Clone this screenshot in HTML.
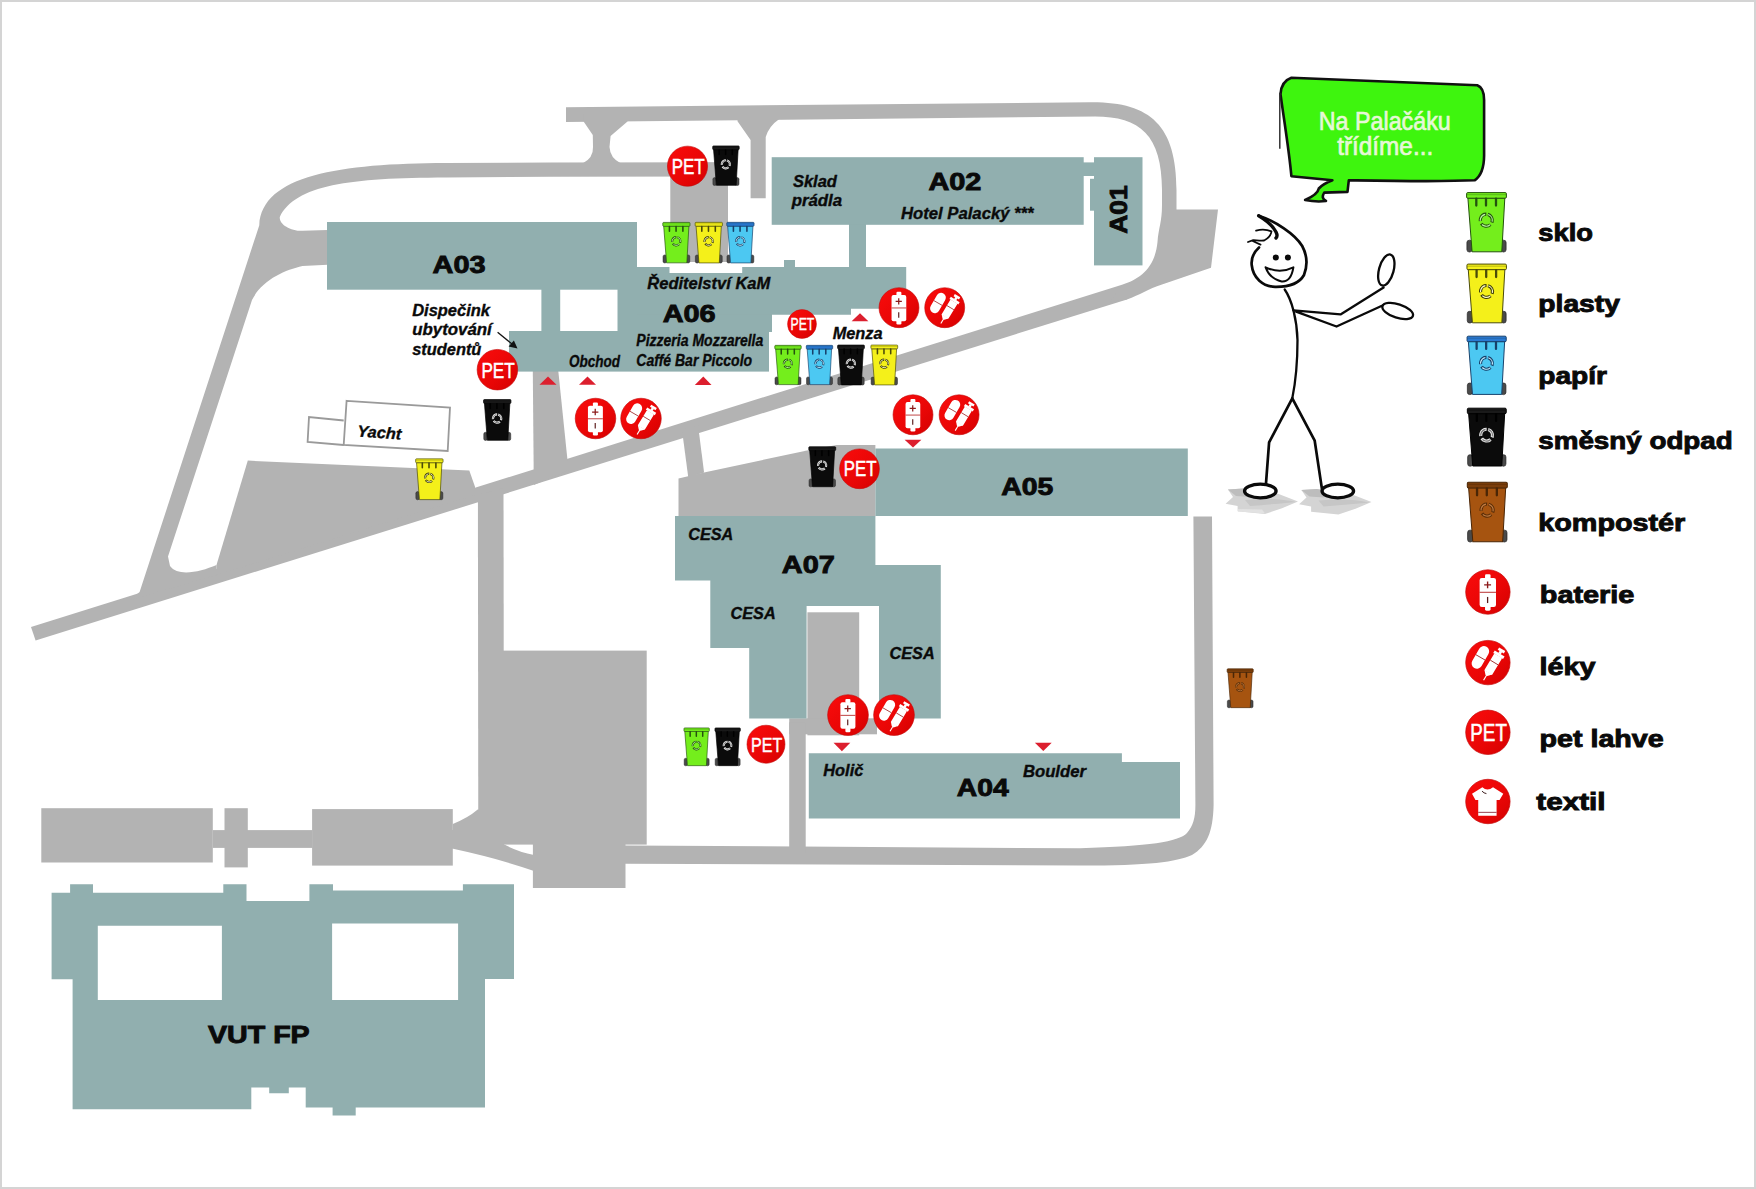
<!DOCTYPE html>
<html><head><meta charset="utf-8">
<style>
html,body{margin:0;padding:0;background:#fff;}
body{width:1756px;height:1189px;overflow:hidden;position:relative;font-family:"Liberation Sans",sans-serif;}
svg{position:absolute;left:0;top:0;display:block;}
.lb{font-family:"Liberation Sans",sans-serif;font-weight:bold;fill:#0a0a0a;stroke:#0a0a0a;stroke-width:0.9;}
.it{font-family:"Liberation Sans",sans-serif;font-weight:bold;font-style:italic;fill:#0a0a0a;stroke:#0a0a0a;stroke-width:0.35;}
</style></head>
<body>
<svg width="1756" height="1189" viewBox="0 0 1756 1189">
<defs>
  <linearGradient id="rg" x1="0" y1="0" x2="1" y2="1">
    <stop offset="0" stop-color="#fa0c0c"/>
    <stop offset="0.6" stop-color="#e80606"/>
    <stop offset="1" stop-color="#d40000"/>
  </linearGradient>
  <symbol id="bin" viewBox="0 0 41 61" overflow="visible">
    <rect x="0.9" y="48.4" width="5.2" height="11.8" rx="2.4" fill="#4a4a4a" stroke="#222" stroke-width="0.7"/>
    <rect x="34.9" y="48.4" width="5.2" height="11.8" rx="2.4" fill="#4a4a4a" stroke="#222" stroke-width="0.7"/>
    <path d="M1.9,6.3 L38.8,6.3 L35.8,60 L6.1,60 Z" fill="var(--body)" stroke="var(--ol)" stroke-width="1"/>
    <rect x="0.6" y="0.8" width="39.8" height="5.6" rx="1.2" fill="var(--lid)" stroke="var(--ol)" stroke-width="1"/>
    <path d="M1,2.9 H40" stroke="var(--ol)" stroke-width="0.5" stroke-opacity="0.7"/>
    <path d="M10.3,6.8 V13.8 M20,6.8 V13.8 M30,6.8 V13.8" stroke="var(--ol)" stroke-width="2.3" stroke-linecap="round"/>
    <circle cx="20.3" cy="28.4" r="6" fill="none" stroke="var(--sym)" stroke-width="3.2" stroke-dasharray="10 2.57" transform="rotate(-75 20.3 28.4)"/>
    <circle cx="20.3" cy="28.4" r="6" fill="none" stroke="var(--symi)" stroke-width="1.2" stroke-dasharray="8.6 3.97" transform="rotate(-72 20.3 28.4)"/>
  </symbol>
  <symbol id="ibat" viewBox="-23 -23 46 46" overflow="visible">
    <circle r="22.5" fill="url(#rg)" stroke="#c40a0a" stroke-width="0.7"/>
    <rect x="-8.4" y="-14.3" width="16.6" height="29.5" rx="2.2" fill="#fff"/>
    <rect x="-2.9" y="-17.9" width="5.6" height="4.4" rx="1.2" fill="#fff"/>
    <rect x="-2.9" y="14" width="5.6" height="4.9" rx="1.4" fill="#fff"/>
    <path d="M-8.4,0.3 H8.2" stroke="#b01818" stroke-width="0.9"/>
    <path d="M-3.8,-7.2 H3.2 M-0.3,-10.7 V-3.7" stroke="#8c1a1a" stroke-width="1.4"/>
    <path d="M-0.3,5 V11.2" stroke="#5a1a1a" stroke-width="1.3"/>
  </symbol>
  <symbol id="imed" viewBox="-23 -23 46 46" overflow="visible">
    <circle r="22.5" fill="url(#rg)" stroke="#c40a0a" stroke-width="0.7"/>
    <g transform="translate(-7.6,-5.35) rotate(30)">
      <rect x="-5.4" y="-12.4" width="10.8" height="24.8" rx="5.4" fill="#fff"/>
      <path d="M-5.4,0 H5.4" stroke="#9a1a1a" stroke-width="0.8"/>
    </g>
    <g transform="translate(5.1,2.05) rotate(31)">
      <rect x="-4.6" y="-10.5" width="9.2" height="20" rx="1" fill="#fff"/>
      <path d="M-4.6,9 L4.6,9 L1.1,12.8 L-1.1,12.8 Z" fill="#fff"/>
      <rect x="-0.6" y="12" width="1.2" height="6.4" fill="#fff"/>
      <rect x="-5.8" y="-13.2" width="11.6" height="3" fill="#fff"/>
      <rect x="-1.4" y="-15.8" width="2.8" height="3" fill="#fff"/>
      <rect x="-3.6" y="-18.2" width="7.2" height="2.8" fill="#fff"/>
      <path d="M-4.6,-2.5 H4.6" stroke="#9a1a1a" stroke-width="0.8"/>
    </g>
  </symbol>
  <symbol id="ipet" viewBox="-23 -23 46 46" overflow="visible">
    <circle r="22.5" fill="url(#rg)" stroke="#c40a0a" stroke-width="0.7"/>
    <text x="0.7" y="8.7" text-anchor="middle" font-family="Liberation Sans" font-size="25" fill="#fff" stroke="#fff" stroke-width="0.6" textLength="37" lengthAdjust="spacingAndGlyphs">PET</text>
  </symbol>
  <symbol id="itex" viewBox="-23 -23 46 46" overflow="visible">
    <circle r="22.5" fill="url(#rg)" stroke="#c40a0a" stroke-width="0.7"/>
    <path d="M-16.1,-7.9 L-5.6,-14.4 Q-0.6,-9.8 5.2,-14.4 L15.6,-7.9 L11.8,-1.5 L8.8,-1.5 L8.8,14.5 L-9.8,14.5 L-9.8,-1.5 L-12.6,-1.5 Z" fill="#fff"/>
    <path d="M-9.8,11 H8.8" stroke="#8a2a3a" stroke-width="0.9"/>
    <path d="M-6,-10.5 Q-4,-8.3 -1.5,-8" stroke="#3a1a1a" stroke-width="1" fill="none"/>
  </symbol>
</defs>
<rect x="0" y="0" width="1756" height="1189" fill="#fff"/>

<!-- ROADS -->
<g id="roads" fill="#b3b3b3">
  <!-- main diagonal -->
  <path d="M31,627 L1122,284.8 L1127,299.4 L35.6,640.5 Z"/>
  <!-- left loop: top road + curve + left road + A03 branch -->
  <path d="M728,162.3 L550,162.4 L446,163 C340,163.5 262,175 259.3,225.2 L139.6,592 L130,600 L216.5,575 L216.5,565 C200,572 178,577 170,566 L168,556.5 L252,300 C262,280 285,270 302.5,266.1 L327.7,264.8 L327.7,230.1 L302.5,230.8 C290,231 279,224 279.8,216.9 C295,185 350,177.6 446,177.4 L550,176.7 L728,176.6 Z"/>
  <!-- parking west -->
  <path d="M216.5,565 L247.8,460.6 L469.3,470.5 L475,486.8 L475,495 L216.5,575 Z"/>
  <!-- top road + right side + flare -->
  <path d="M566,107.2 L1090,102.2 C1150,101.5 1176.5,125 1176.5,190 L1176.5,209.5 L1218,209.6 L1211,267.8 L1162,284.5 C1148,289 1140,295 1127,299.4 L1110,302 L1122,284.8 C1140,279 1155,268 1157.5,242 C1158.5,228 1162,222 1162,205 L1162,190 C1162,135 1140,116.5 1095,116.4 L566,122 Z"/>
  <!-- X connector -->
  <path d="M583.6,121.6 L592.8,135 L593,147 Q593.5,158 582.5,163.5 L582.5,166 L621,166 L621,163.5 Q610,158 609.5,147 L610.6,136 L627.5,121.4 L627.5,114 L583.6,114 Z"/>
  <!-- right connector -->
  <path d="M737.5,121.2 L750.6,140 L750.6,198.2 L765.7,198.2 L765.7,137 Q769,126 779,119.2 L779,112 L737.5,112 Z"/>
  <!-- pad -->
  <rect x="670.3" y="162.6" width="57.7" height="99.4"/>
  <!-- road under A06 -->
  <path d="M532.8,371 L558.3,371 L568.5,470 L533.8,485 Z"/>
  <!-- vertical branch to A07 parking -->
  <path d="M682,430 L698,425 L704.1,472.4 L688.3,477.7 Z"/>
  <!-- A07 parking -->
  <path d="M678.5,478.6 L704,472.4 L808.3,450.3 L836.6,445 L875.4,445 L875.4,516.2 L678.5,516.2 Z"/>
  <!-- left vertical road -->
  <path d="M477.9,495 L503.5,488 L504,846 L478.3,846 Z"/>
  <!-- big parking -->
  <rect x="502" y="650.6" width="144.7" height="194"/>
  <rect x="532.9" y="842" width="92.6" height="46"/>
  <!-- bottom road + right road -->
  <path d="M625,845.4 L1080,848.3 C1150,846 1178,842 1187,833 C1193,826 1195.4,818 1195.4,805 L1193.4,516.4 L1212,516.4 L1213.6,805 C1213,832 1207,846 1192,855 C1176,862 1150,865.5 1080,865.6 L625,863.8 Z"/>
  <!-- A07 inner grey + small road -->
  <rect x="807.4" y="612.3" width="51.8" height="123"/>
  <rect x="789.2" y="718.3" width="87.8" height="16"/>
  <rect x="789.2" y="722.3" width="16.5" height="130"/>
  <!-- bottom-left rects -->
  <rect x="41.3" y="808.2" width="171.5" height="54.3"/>
  <rect x="224.5" y="808.2" width="23.3" height="59.2"/>
  <rect x="312.1" y="809.1" width="140.7" height="56.5"/>
  <rect x="212.8" y="830.1" width="99.5" height="17.8"/>
  <path d="M452.8,824 Q468,818 477.7,809.6 L480,809.6 L480,848 L452.8,848 Z"/>
  <path d="M452,830 L480,830 L480,843.8 L502.8,843.8 Q518,852 534,855 L534,871 Q500,859 452,848.6 Z"/>
</g>

<!-- BUILDINGS -->
<g id="bld" fill="#91afaf">
  <rect x="327" y="222" width="310" height="67.7"/>
  <rect x="541.4" y="289" width="18.8" height="43"/>
  <rect x="617.5" y="289" width="154.5" height="43"/>
  <path d="M637,267 L669.5,267 L669.5,273 L742.2,273 L742.2,267 L906.2,267 L906.2,308.8 L851,308.8 L851,314.8 L637,314.8 Z"/>
  <rect x="784" y="260" width="11" height="8"/>
  <rect x="509" y="331" width="260" height="40.6"/>
  <rect x="849" y="223" width="17" height="45"/>
  <rect x="771.7" y="157.2" width="312" height="67.6"/>
  <rect x="1094" y="157.2" width="48.5" height="108.2"/>
  <rect x="1083" y="162.4" width="11.5" height="13.6"/>
  <rect x="1090" y="178.8" width="4.5" height="31.9"/>
  <rect x="875.4" y="448.5" width="312.4" height="67.5"/>
  <path d="M675,516 L875.4,516 L875.4,565 L940.8,565 L940.8,718.6 L879,718.6 L879,606.1 L806.6,606.1 L806.6,718.6 L749.2,718.6 L749.2,648 L710.3,648 L710.3,580.4 L675,580.4 Z"/>
  <path d="M808.8,753.2 L1121.9,753.2 L1121.9,762.1 L1180,762.1 L1180,818.4 L808.8,818.4 Z"/>
  <path fill-rule="evenodd" d="M51.6,892.7 L70.1,892.7 L70.1,884.3 L93,884.3 L93,892.7 L223.3,892.7 L223.3,884.3 L246.5,884.3 L246.5,901.1 L309.4,901.1 L309.4,884.3 L333,884.3 L333,890.6 L462.9,890.6 L462.9,884.3 L514,884.3 L514,978.9 L485,978.9 L485,1107.6 L355.7,1107.6 L355.7,1115.6 L332.6,1115.6 L332.6,1107.6 L305.7,1107.6 L305.7,1087.6 L288.8,1087.6 L288.8,1093.3 L269.2,1093.3 L269.2,1087.6 L251.3,1087.6 L251.3,1109.3 L72.6,1109.3 L72.6,979.3 L51.6,979.3 Z M97.8,925.7 L221.9,925.7 L221.9,999.9 L97.8,999.9 Z M332.1,923.6 L458.1,923.6 L458.1,999.9 L332.1,999.9 Z"/>
</g>


<!-- TRIANGLES -->
<g fill="#dc1f2e">
  <path d="M539.5,384.8 L548,376.6 L556.5,384.8 Z"/>
  <path d="M579,384.8 L587.5,376.6 L596,384.8 Z"/>
  <path d="M694.8,384.9 L703.3,376.4 L711.5,384.9 Z"/>
  <path d="M851.6,321.2 L860,313.3 L868.4,321.2 Z"/>
  <path d="M904.6,439.8 L921.4,439.8 L913,447.6 Z"/>
  <path d="M833.5,742.8 L850.3,742.8 L841.9,751.3 Z"/>
  <path d="M1034.9,742.7 L1051.7,742.7 L1043.3,751.1 Z"/>
</g>

<!-- MAP BINS -->
<g>
  <use href="#bin" x="483" y="399" width="28.5" height="42" style="--body:#0b0b0b;--lid:#1a1a1a;--ol:#000;--sym:#e8e8e8;--symi:#777"/>
  <use href="#bin" x="415" y="458.3" width="28.7" height="42" style="--body:#f4f01a;--lid:#f4f01a;--ol:#4a4a08;--sym:#3a3a08;--symi:#fafac0"/>
  <use href="#bin" x="712.3" y="145.2" width="27.3" height="41" style="--body:#0b0b0b;--lid:#1a1a1a;--ol:#000;--sym:#e8e8e8;--symi:#777"/>
  <use href="#bin" x="662.4" y="221.8" width="28" height="41.8" style="--body:#74ee1c;--lid:#74ee1c;--ol:#24520e;--sym:#24520e;--symi:#b8f7a0"/>
  <use href="#bin" x="694.7" y="221.8" width="28.2" height="41.8" style="--body:#f4f01a;--lid:#f4f01a;--ol:#4a4a08;--sym:#3a3a08;--symi:#fafac0"/>
  <use href="#bin" x="726.3" y="221.8" width="28.2" height="41.8" style="--body:#4cc8f2;--lid:#2a7ad2;--ol:#17406a;--sym:#17406a;--symi:#c0ecfc"/>
  <use href="#bin" x="774.4" y="344.4" width="27.2" height="41.3" style="--body:#74ee1c;--lid:#74ee1c;--ol:#24520e;--sym:#24520e;--symi:#b8f7a0"/>
  <use href="#bin" x="805.9" y="344.4" width="27.2" height="41.3" style="--body:#4cc8f2;--lid:#2a7ad2;--ol:#17406a;--sym:#17406a;--symi:#c0ecfc"/>
  <use href="#bin" x="837.2" y="344.4" width="27.6" height="41.3" style="--body:#0b0b0b;--lid:#1a1a1a;--ol:#000;--sym:#e8e8e8;--symi:#777"/>
  <use href="#bin" x="870.5" y="344.4" width="27.6" height="41.3" style="--body:#f4f01a;--lid:#f4f01a;--ol:#4a4a08;--sym:#3a3a08;--symi:#fafac0"/>
  <use href="#bin" x="808.3" y="446.2" width="27.9" height="41.2" style="--body:#0b0b0b;--lid:#1a1a1a;--ol:#000;--sym:#e8e8e8;--symi:#777"/>
  <use href="#bin" x="683.5" y="727.4" width="26.3" height="38.9" style="--body:#74ee1c;--lid:#74ee1c;--ol:#24520e;--sym:#24520e;--symi:#b8f7a0"/>
  <use href="#bin" x="714.4" y="727.4" width="26.5" height="38.9" style="--body:#0b0b0b;--lid:#1a1a1a;--ol:#000;--sym:#e8e8e8;--symi:#777"/>
  <use href="#bin" x="1226.4" y="668.3" width="27.6" height="40" style="--body:#a65410;--lid:#7a3d0a;--ol:#4a2606;--sym:#5a2e08;--symi:#c07a40"/>
</g>

<!-- MAP ICONS -->
<g>
  <use href="#ipet" x="667" y="145.7" width="41" height="41"/>
  <use href="#ipet" x="476.7" y="349" width="41.4" height="41.4"/>
  <use href="#ipet" x="787.2" y="309.2" width="29.6" height="29.6"/>
  <use href="#ipet" x="839.2" y="448.5" width="40.6" height="40.6"/>
  <use href="#ipet" x="746.6" y="724.8" width="38.8" height="38.8"/>
  <use href="#ibat" x="878.6" y="287.3" width="40.8" height="40.8"/>
  <use href="#imed" x="924.3" y="287.3" width="40.8" height="40.8"/>
  <use href="#ibat" x="574.8" y="397.8" width="41.4" height="41.4"/>
  <use href="#imed" x="620.3" y="397.8" width="41.4" height="41.4"/>
  <use href="#ibat" x="892.6" y="394.4" width="40.8" height="40.8"/>
  <use href="#imed" x="938.7" y="394.4" width="40.8" height="40.8"/>
  <use href="#ibat" x="827.2" y="694.3" width="41.6" height="41.6"/>
  <use href="#imed" x="873.2" y="694.3" width="41.6" height="41.6"/>
</g>

<!-- LEGEND -->
<g>
  <use href="#bin" x="1466" y="191.8" width="41" height="61" style="--body:#74ee1c;--lid:#74ee1c;--ol:#24520e;--sym:#24520e;--symi:#b8f7a0"/>
  <use href="#bin" x="1466.2" y="263.3" width="41" height="60.5" style="--body:#f4f01a;--lid:#f4f01a;--ol:#4a4a08;--sym:#3a3a08;--symi:#fafac0"/>
  <use href="#bin" x="1466.4" y="335.4" width="40.5" height="60" style="--body:#4cc8f2;--lid:#2a7ad2;--ol:#17406a;--sym:#17406a;--symi:#c0ecfc"/>
  <use href="#bin" x="1466.4" y="407.4" width="40.8" height="59.6" style="--body:#0b0b0b;--lid:#1a1a1a;--ol:#000;--sym:#e8e8e8;--symi:#777"/>
  <use href="#bin" x="1466.6" y="481.5" width="41.4" height="61.3" style="--body:#a65410;--lid:#7a3d0a;--ol:#4a2606;--sym:#5a2e08;--symi:#c07a40"/>
  <use href="#ibat" x="1465.2" y="569.3" width="45.4" height="45.4"/>
  <use href="#imed" x="1465.2" y="639.9" width="45.4" height="45.4"/>
  <use href="#ipet" x="1465.2" y="709.6" width="45.4" height="45.4"/>
  <use href="#itex" x="1465.2" y="778.8" width="45.4" height="45.4"/>
</g>


<!-- LABELS -->
<g class="lb" font-size="24">
  <text x="432.6" y="273" textLength="53" lengthAdjust="spacingAndGlyphs">A03</text>
  <text x="662.7" y="322" textLength="53" lengthAdjust="spacingAndGlyphs">A06</text>
  <text x="928.4" y="190.2" textLength="53" lengthAdjust="spacingAndGlyphs">A02</text>
  <text x="1001.3" y="494.7" textLength="52" lengthAdjust="spacingAndGlyphs">A05</text>
  <text x="781.8" y="572.7" textLength="53" lengthAdjust="spacingAndGlyphs">A07</text>
  <text x="956.8" y="796.4" textLength="51.9" lengthAdjust="spacingAndGlyphs">A04</text>
  <text x="208" y="1043" textLength="101.7" lengthAdjust="spacingAndGlyphs">VUT FP</text>
  <text transform="translate(1127.2,233.8) rotate(-90)" x="0" y="0" textLength="48.5" lengthAdjust="spacingAndGlyphs">A01</text>
</g>
<g class="it" font-size="16">
  <text x="792.9" y="186.7" textLength="44" lengthAdjust="spacingAndGlyphs">Sklad</text>
  <text x="791.7" y="206.4" textLength="50.4" lengthAdjust="spacingAndGlyphs">prádla</text>
  <text x="901" y="218.7" textLength="132.6" lengthAdjust="spacingAndGlyphs">Hotel Palacký ***</text>
  <text x="647.3" y="288.5" textLength="123" lengthAdjust="spacingAndGlyphs">Ředitelství KaM</text>
  <text x="636.3" y="346" textLength="127" lengthAdjust="spacingAndGlyphs">Pizzeria Mozzarella</text>
  <text x="636.3" y="365.8" textLength="115.8" lengthAdjust="spacingAndGlyphs">Caffé Bar Piccolo</text>
  <text x="569" y="366.8" textLength="51" lengthAdjust="spacingAndGlyphs">Obchod</text>
  <text x="412.2" y="315.5" textLength="77.8" lengthAdjust="spacingAndGlyphs">Dispečink</text>
  <text x="412.2" y="335.2" textLength="79.6" lengthAdjust="spacingAndGlyphs">ubytování</text>
  <text x="412.2" y="355.1" textLength="69.2" lengthAdjust="spacingAndGlyphs">studentů</text>
  <text x="832.7" y="339.4" textLength="49.8" lengthAdjust="spacingAndGlyphs">Menza</text>
  <text x="688.3" y="539.5" textLength="45" lengthAdjust="spacingAndGlyphs">CESA</text>
  <text x="730.6" y="618.6" textLength="45" lengthAdjust="spacingAndGlyphs">CESA</text>
  <text x="889.6" y="658.6" textLength="45" lengthAdjust="spacingAndGlyphs">CESA</text>
  <text x="823.3" y="776" textLength="40" lengthAdjust="spacingAndGlyphs">Holič</text>
  <text x="1022.9" y="776.5" textLength="63.1" lengthAdjust="spacingAndGlyphs">Boulder</text>
  <text transform="rotate(4 379 432)" x="357.4" y="438" textLength="44" lengthAdjust="spacingAndGlyphs">Yacht</text>
</g>
<!-- arrow -->
<path d="M497.6,332.2 L513.5,345.3" stroke="#111" stroke-width="1.3"/>
<path d="M517.5,348.6 L508.6,346.4 L513.9,340.4 Z" fill="#111"/>
<!-- yacht outline -->
<g fill="none" stroke="#9a9a9a" stroke-width="1.8">
  <path d="M346.6,400.8 L450,407.6 L447.7,451 L343.7,445 Z"/>
  <path d="M343.7,420.5 L309,417 L307.6,442 L343.7,445"/>
</g>

<g class="lb" font-size="23.5" stroke-width="1.4" transform="translate(0,0.5)">
  <text x="1538.3" y="240.2" textLength="54.7" lengthAdjust="spacingAndGlyphs">sklo</text>
  <text x="1538.3" y="311.2" textLength="81.6" lengthAdjust="spacingAndGlyphs">plasty</text>
  <text x="1538.3" y="383.2" textLength="68.7" lengthAdjust="spacingAndGlyphs">papír</text>
  <text x="1538.3" y="448" textLength="194.4" lengthAdjust="spacingAndGlyphs">směsný odpad</text>
  <text x="1538.3" y="530.2" textLength="147" lengthAdjust="spacingAndGlyphs">kompostér</text>
  <text x="1539.8" y="602.9" textLength="94.6" lengthAdjust="spacingAndGlyphs">baterie</text>
  <text x="1539.5" y="674.9" textLength="56" lengthAdjust="spacingAndGlyphs">léky</text>
  <text x="1539.5" y="746.3" textLength="124.2" lengthAdjust="spacingAndGlyphs">pet lahve</text>
  <text x="1536.3" y="809.9" textLength="69.3" lengthAdjust="spacingAndGlyphs">textil</text>
</g>

<!-- SPEECH BUBBLE -->
<g>
  <path d="M1291.4,77.8 C1360,80 1420,83 1477.3,85.3 C1482,87 1484.1,92 1484.1,100 L1484.1,155.7 C1484,168 1481,176 1474.6,180.3 C1440,182 1390,181 1348.8,180.3 L1347.5,191.9 L1324.2,192.6 C1322,196 1322,199 1326,201 C1318,202 1310,201 1305.1,200 C1312,197 1318,193 1318.8,188.5 C1322,185 1328,182 1332.4,180.3 L1291.4,176.2 C1289,150 1284,120 1280.5,94.2 C1281,86 1285,80 1291.4,77.8 Z" fill="#3ef50e" stroke="#111" stroke-width="2.6" stroke-linejoin="round"/>
  <path d="M1279.8,92.8 L1279.8,148.8" stroke="#333" stroke-width="1.5"/>
  <text x="1318.8" y="129.7" font-family="Liberation Sans" font-size="26.5" fill="#e6f8d6" stroke="#e6f8d6" stroke-width="0.7" textLength="132" lengthAdjust="spacingAndGlyphs">Na Palačáku</text>
  <text x="1337.2" y="154.5" font-family="Liberation Sans" font-size="25" fill="#e6f8d6" stroke="#e6f8d6" stroke-width="0.7" textLength="96" lengthAdjust="spacingAndGlyphs">třídíme...</text>
</g>

<!-- STICK FIGURE -->
<g fill="none" stroke="#0a0a0a" stroke-width="2.3" stroke-linecap="round" stroke-linejoin="round">
  <g stroke="none">
    <path id="shL" d="M1227.9,489.5 L1243.3,488.4 L1277.4,493.5 L1298,501.5 L1282,508.3 L1264.9,514 L1237.6,511.2 L1237.6,506 L1225.6,503.8 L1233,497 Z" fill="#d4d4d4"/>
    <path d="M1227.9,489.5 L1243.3,488.4 L1262,492 L1250,497 L1236,496 Z" fill="#bdbdbd"/>
    <path d="M1245,500 Q1275,497 1296,502 Q1275,504 1250,506 Z" fill="#c6c6c6"/>
    <path d="M1238,509 L1262,509.5 L1265,513.5 L1238,511.5 Z" fill="#e2e2e2"/>
    <use href="#shL" x="73.5" y="0.5"/>
    <path d="M1301.4,490 L1316.8,488.9 L1335.5,492.5 L1323.5,497.5 L1309.5,496.5 Z" fill="#bdbdbd"/>
    <path d="M1318.5,500.5 Q1348.5,497.5 1369.5,502.5 Q1348.5,504.5 1323.5,506.5 Z" fill="#c6c6c6"/>
  </g>
  <path d="M1258.7,215.7 C1275,221 1295,234 1302.2,246 C1307,255 1307.5,266 1304,275 C1299,284 1287,287 1275.1,286.8 C1263,286.5 1253,278 1251.7,265 C1251,258 1254,252 1259,247.5" stroke-width="2.7"/>
  <path d="M1258.7,215.7 C1266,220 1273,226 1276,232 C1277.5,235 1277,237 1276,238" stroke-width="3.4"/>
  <path d="M1256.1,230.7 C1262,229 1268,230 1271.5,231.4 C1271,235 1268,238.5 1264.1,240.5 C1260,241 1255,240 1253.2,240.2 L1248,242 M1253.2,241.3 L1260.5,244.6" stroke-width="1.8"/>
  <circle cx="1275.8" cy="257.4" r="3" fill="#0a0a0a" stroke="none"/>
  <circle cx="1287.9" cy="257.4" r="3" fill="#0a0a0a" stroke="none"/>
  <path d="M1265.6,267.3 Q1280,274 1293.4,267.3 Q1291,282 1281.7,281.4 Q1270,279 1265.6,267.3 Z" fill="#fff" stroke-width="2"/>
  <path d="M1284.7,289.5 C1292,300 1297,320 1297.5,340 C1297.5,360 1296,380 1292.3,398.3"/>
  <path d="M1293.4,310.3 L1340.5,314.4 L1383.6,287.5 M1296.1,311.7 L1336.5,326.5 L1383.6,305"/>
  <ellipse cx="1386.3" cy="270" rx="7.3" ry="16" transform="rotate(15 1386.3 270)" fill="#fff"/>
  <ellipse cx="1397.7" cy="311" rx="16" ry="6.8" transform="rotate(18 1397.7 311)" fill="#fff"/>
  <path d="M1292.3,398.3 L1269.1,442.3 L1265.9,484.6 M1292.3,398.3 L1314.7,440.7 L1321.9,488.6" stroke-width="2.7"/>
  <ellipse cx="1260.3" cy="491" rx="15.8" ry="6.8" fill="#fff" stroke-width="3.3"/>
  <ellipse cx="1337.8" cy="491" rx="15.8" ry="6.8" fill="#fff" stroke-width="3.3"/>
</g>

<!-- border -->
<rect x="1" y="1" width="1754" height="1187" fill="none" stroke="#d4d4d4" stroke-width="2"/>
</svg>
</body></html>
